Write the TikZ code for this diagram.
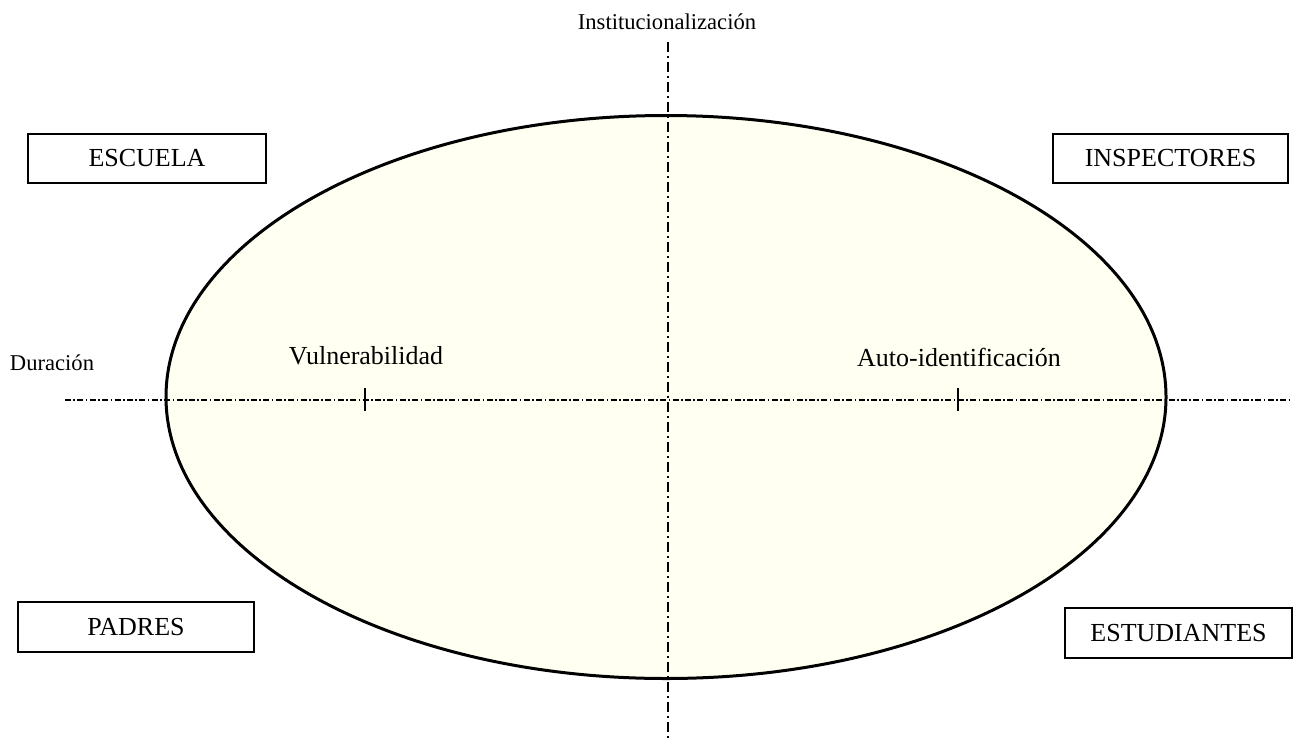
\documentclass[tikz,border=0pt]{standalone}
\usepackage{fontspec}
\setmainfont{Liberation Serif}
\usetikzlibrary{shapes.geometric}
\definecolor{crema}{RGB}{255,255,242}
\tikzset{
	actor/.style={draw, line width=1pt, minimum height=24.5pt, font=\fontsize{13}{15}\selectfont},
	eje/.style={line width=0.7pt, dash pattern=on 3pt off 1.2pt on 0.8pt off 1.2pt},
	ejev/.style={line width=0.7pt, dash pattern=on 5pt off 2pt on 1pt off 2pt},
	rotulo/.style={font=\fontsize{13}{15}\selectfont},
	rotulochico/.style={font=\fontsize{11.3}{13}\selectfont}
}
\begin{document}
\begin{tikzpicture}[x=0.5pt,y=-0.5pt]
			\useasboundingbox (0,0) rectangle (1294,738);
			\node[draw, ellipse, fill=crema, line width=1.5pt, minimum width=500pt, minimum height=281.5pt, inner sep=0pt] (campo) at (666,397) {};
			\coordinate (arriba) at (668,42);
			\coordinate (abajo) at (668,738);
			\coordinate (izq) at (65,400);
			\coordinate (der) at (1290,400);
			\draw[ejev] (arriba) -- (abajo);
			\draw[eje] (izq) -- (der);
			\coordinate (m1) at (365,400);
			\coordinate (m2) at (958,400);
			\draw[line width=0.8pt] ([yshift=-5.5pt]m1) -- ([yshift=6pt]m1);
			\draw[line width=0.8pt] ([yshift=-5.5pt]m2) -- ([yshift=6pt]m2);
			\node[rotulochico] (inst) at (667,22) {Institucionalización};
			\node[rotulochico] (dur) at (52,363) {Duración};
			\node[rotulo] (vul) at (366,356) {Vulnerabilidad};
			\node[rotulo] (auto) at (959,357) {Auto-identificación};
			\node[actor, minimum width=119pt] (escuela) at (147,158) {ESCUELA};
			\node[actor, minimum width=117.5pt] (inspectores) at (1170.5,158) {INSPECTORES};
			\node[actor, minimum width=118pt, minimum height=25pt] (padres) at (136,627) {PADRES};
			\node[actor, minimum width=113.5pt, minimum height=25pt] (estudiantes) at (1178.5,633) {ESTUDIANTES};
		\end{tikzpicture}
\end{document}
